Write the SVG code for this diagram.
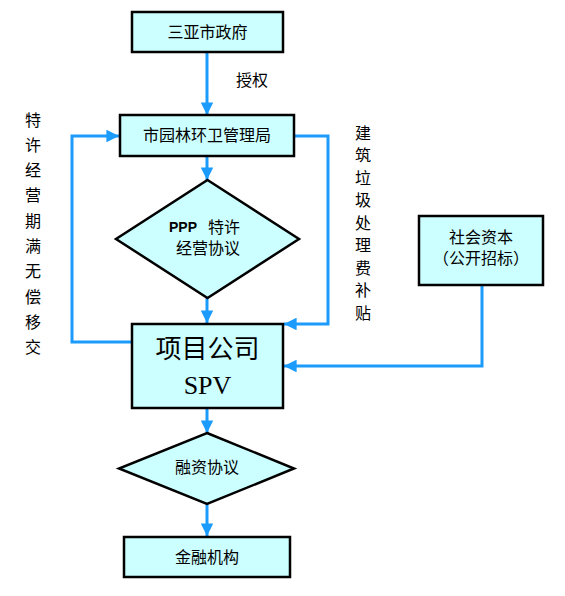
<svg xmlns="http://www.w3.org/2000/svg" width="565" height="596" viewBox="0 0 565 596">
<style>
.box{fill:#CCFFFF;stroke:#000;stroke-width:2.5}
.ln{fill:none;stroke:#1B9CFC;stroke-width:3}
.t{font-family:"Liberation Sans","Noto Sans CJK SC",sans-serif;font-size:16px;fill:#000;text-anchor:middle;dominant-baseline:central}
.s{font-family:"Liberation Serif","Noto Sans CJK SC",serif;font-size:26px;fill:#000;text-anchor:middle;dominant-baseline:central}
</style>
<defs>
<marker id="ah" viewBox="0 0 10 10" refX="10" refY="5" markerWidth="4.2" markerHeight="4.2" markerUnits="strokeWidth" orient="auto">
<path d="M0,0 L10,5 L0,10 z" fill="#1B9CFC"/>
</marker>
</defs>
<rect width="565" height="596" fill="#fff"/>
<g id="connectors">
<line class="ln" x1="207" y1="52" x2="207" y2="115" marker-end="url(#ah)"/>
<line class="ln" x1="207" y1="156" x2="207" y2="180" marker-end="url(#ah)"/>
<line class="ln" x1="207" y1="298" x2="207" y2="323" marker-end="url(#ah)"/>
<line class="ln" x1="207" y1="408" x2="207" y2="433" marker-end="url(#ah)"/>
<line class="ln" x1="207" y1="504" x2="207" y2="536" marker-end="url(#ah)"/>
<polyline class="ln" points="132,342 72,342 72,136 119,136" marker-end="url(#ah)"/>
<polyline class="ln" points="295,136 328,136 328,324 284,324" marker-end="url(#ah)"/>
<polyline class="ln" points="482,285 482,366 284,366" marker-end="url(#ah)"/>
<text class="t" x="252" y="80">授权</text>
<g>
<text class="t" x="33" y="120">特</text>
<text class="t" x="33" y="145.3">许</text>
<text class="t" x="33" y="170.6">经</text>
<text class="t" x="33" y="195.9">营</text>
<text class="t" x="33" y="221.2">期</text>
<text class="t" x="33" y="246.5">满</text>
<text class="t" x="33" y="271.8">无</text>
<text class="t" x="33" y="297.1">偿</text>
<text class="t" x="33" y="322.4">移</text>
<text class="t" x="33" y="347.7">交</text>
</g>
<g>
<text class="t" x="363" y="133">建</text>
<text class="t" x="363" y="155.5">筑</text>
<text class="t" x="363" y="178">垃</text>
<text class="t" x="363" y="200.5">圾</text>
<text class="t" x="363" y="223">处</text>
<text class="t" x="363" y="245.5">理</text>
<text class="t" x="363" y="268">费</text>
<text class="t" x="363" y="290.5">补</text>
<text class="t" x="363" y="313">贴</text>
</g>
</g>
<g id="gov">
<rect class="box" x="132" y="12" width="151" height="40"/>
<text class="t" x="207.5" y="32">三亚市政府</text>
</g>
<g id="bureau">
<rect class="box" x="120" y="115" width="174" height="41"/>
<text class="t" x="207" y="135.5">市园林环卫管理局</text>
</g>
<g id="ppp">
<polygon class="box" points="207.5,180 299,239 207.5,298 116,239"/>
<text class="t" x="169" y="227" style="font-size:14px;font-weight:bold;text-anchor:start">PPP</text>
<text class="t" x="208" y="227" style="text-anchor:start">特许</text>
<text class="t" x="208" y="248">经营协议</text>
</g>
<g id="social">
<rect class="box" x="419" y="216" width="124" height="69"/>
<text class="t" x="481" y="237">社会资本</text>
<text class="t" x="481" y="258">（公开招标）</text>
</g>
<g id="spv">
<rect class="box" x="132" y="324" width="151" height="84"/>
<text class="s" x="207.5" y="349">项目公司</text>
<text class="s" x="207.5" y="385">SPV</text>
</g>
<g id="finance">
<polygon class="box" points="207,433 294,468.5 207,504 119,468.5"/>
<text class="t" x="207" y="467">融资协议</text>
</g>
<g id="bank">
<rect class="box" x="124" y="537" width="166" height="40"/>
<text class="t" x="207" y="557">金融机构</text>
</g>
</svg>
